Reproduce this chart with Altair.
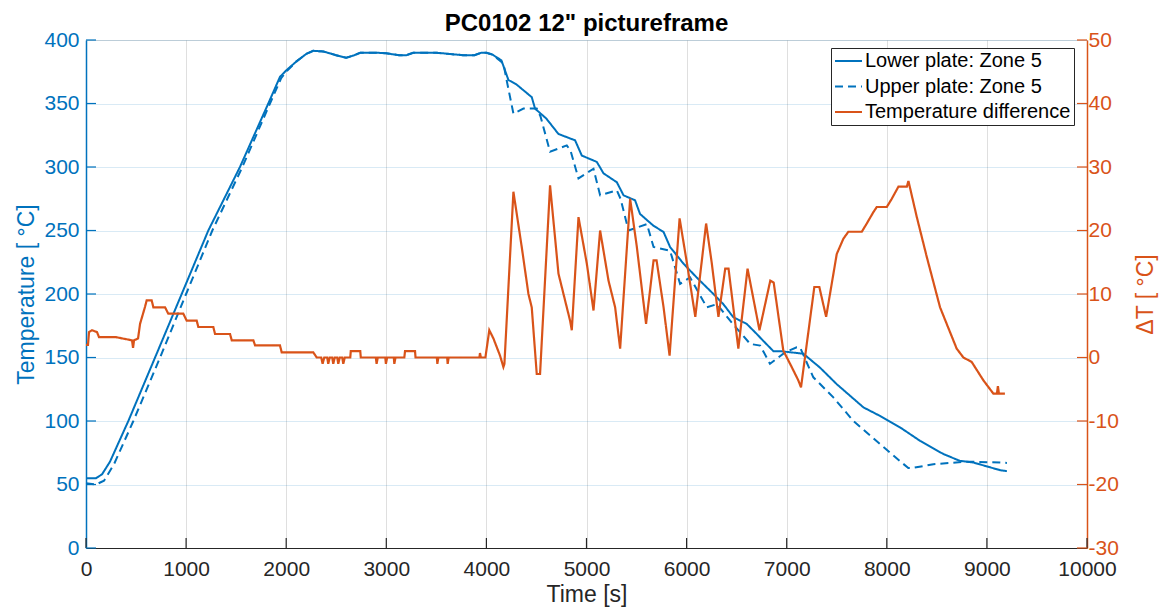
import altair as alt
import pandas as pd

FONT = "Liberation Sans"
BLUE = "#0072BD"
ORANGE = "#D95319"
DARK = "#262626"

S_LOW = "Lower plate: Zone 5"
S_UP = "Upper plate: Zone 5"
S_DIFF = "Temperature difference"

# Lower plate (solid)
lower_t = [0, 100, 160, 240, 423, 690, 956, 1222, 1538, 1821, 1938, 2000, 2100, 2200,
           2270, 2370, 2500, 2600, 2680, 2740, 2900, 3000, 3130, 3200, 3270, 3500, 3700,
           3770, 3880, 3950, 4000, 4060, 4150, 4220, 4300, 4453, 4486, 4600, 4720, 4886,
           4953, 5103, 5170, 5303, 5370, 5485, 5535, 5665, 5770, 5835, 5968, 6101, 6268,
           6367, 6467, 6600, 6700, 6767, 6867, 6933, 7166, 7333, 7500, 7767, 7932, 8132,
           8332, 8565, 8731, 8865, 9131, 9200]
lower_T = [55, 55, 58, 68, 100, 150, 200, 250, 300, 350, 371, 376, 383, 389,
           391.5, 391, 388, 386, 388, 390, 390, 389.5, 388, 388, 390, 390, 388.5,
           388, 388, 390, 390, 388.5, 384, 368.5, 365, 355, 346, 338, 326, 321,
           309, 304, 295, 288, 277.7, 273.8, 263, 254, 248.8, 237, 224, 213, 200,
           192, 181.7, 176.5, 168.6, 163, 155, 155, 153, 142, 129, 110.7, 104, 95,
           84.4, 74, 68.6, 67.3, 61.3, 60.5]

# Upper plate (dashed)
upper_t = [0, 100, 180, 280, 473, 740, 1000, 1262, 1562, 1838, 1950, 2000, 2100, 2200,
           2270, 2370, 2500, 2600, 2680, 2740, 2900, 3000, 3130, 3200, 3270, 3500, 3700,
           3770, 3880, 3950, 4000, 4060, 4170, 4203, 4270, 4370, 4503, 4540, 4636, 4803,
           4840, 4920, 5070, 5136, 5303, 5340, 5420, 5604, 5670, 5835, 5935, 6035, 6202,
           6302, 6435, 6635, 6735, 6833, 6983, 7100, 7133, 7266, 7466, 7666, 7932, 8215,
           8250, 8465, 8797, 9131, 9200]
upper_T = [51, 50, 53, 66, 100, 150, 200, 250, 300, 350, 370, 375, 383, 389,
           391.5, 391, 388, 386, 388, 390, 390, 389.5, 388, 388, 390, 390, 388.5,
           388, 388, 390, 390, 388.5, 381.5, 368, 342, 346, 346, 340, 312, 317,
           313, 291, 298.6, 277.7, 281.6, 275, 250, 255, 237, 234, 208, 213, 189.5,
           192, 179, 160.7, 159.4, 145, 154, 158, 158, 134.4, 118.6, 100, 81.8, 62.9,
           62.9, 66, 68, 67.3, 67]

# Temperature difference (right axis)
diff_t = [0, 20, 30, 60, 110, 130, 300, 460, 470, 480, 520, 540, 590, 606, 656, 673, 790,
          822, 972, 1006, 1106, 1122, 1272, 1289, 1439, 1456, 1672, 1689, 1938, 1955, 2271,
          2305, 2350, 2364, 2380, 2410, 2420, 2435, 2460, 2470, 2485, 2510, 2520, 2535,
          2560, 2570, 2585, 2640, 2645, 2740, 2745, 2895, 2903, 2915, 2990, 2996, 3008,
          3075, 3080, 3092, 3180, 3187, 3287, 3292, 3505, 3510, 3520, 3608, 3613, 3623,
          3930, 3936, 3945, 3990, 4029, 4070, 4136, 4170, 4180, 4270, 4353, 4420, 4453,
          4503, 4536, 4636, 4720, 4836, 4853, 4920, 5003, 5070, 5136, 5220, 5286, 5336,
          5436, 5503, 5595, 5670, 5700, 5770, 5830, 5930, 6004, 6087, 6195, 6252, 6318,
          6386, 6419, 6517, 6609, 6728, 6836, 6870, 6966, 7050, 7116, 7143, 7276, 7326,
          7394, 7500, 7566, 7616, 7750, 7800, 7866, 7900, 8000, 8050, 8116, 8200, 8216,
          8300, 8400, 8532, 8698, 8765, 8848, 8965, 9065, 9100, 9110, 9120, 9180]
diff_dT = [2, 2, 4, 4.3, 4, 3.2, 3.2, 2.7, 1.5, 2.7, 3, 5.3, 8, 9, 9, 7.9, 7.9,
           6.9, 6.9, 5.8, 5.8, 4.8, 4.8, 3.7, 3.7, 2.7, 2.7, 1.9, 1.9, 0.8, 0.8,
           0, 0, -1, 0, 0, -1, 0, 0, -1, 0, 0, -1, 0,
           0, -1, 0, 0, 1, 1, 0, 0, -1, 0, 0, -1, 0,
           0, -1, 0, 0, 1, 1, 0, 0, -1, 0, 0, -1, 0,
           0, 0.7, 0, 0, 4.3, 3, 0.3, -1.5, -1, 26.1, 17.4, 10, 7.9,
           -2.6, -2.6, 27.1, 13.2, 5.8, 4.3, 22.1, 14.8, 7.4, 20, 12.1, 7.9, 1.4,
           25, 17.4, 5.3, 15.3, 15.3, 7.9, 0.3, 21.9, 14.8, 6.4, 21.1, 14.8, 6.4,
           14, 14, 1.4, 14, 4.3, 12.1, 11.8, 1.1, -1.5, -3.6, -4.7, 11.1, 11.1,
           6.4, 16.3, 18.7, 19.8, 19.8, 21.1, 22.9, 23.7, 23.7, 25, 26.9, 26.9, 27.8,
           22.1, 15.8, 7.9, 1.4, 0, -0.7, -3.6, -5.7, -5.7, -4.5, -5.7, -5.7]

x_ticks = list(range(0, 10001, 1000))
left_ticks = list(range(0, 401, 50))
right_ticks = list(range(-30, 51, 10))

W, H = 1001, 508

left_df = pd.concat([
    pd.DataFrame({"t": lower_t, "T": lower_T, "series": S_LOW}),
    pd.DataFrame({"t": upper_t, "T": upper_T, "series": S_UP}),
], ignore_index=True)
right_df = pd.DataFrame({"t": diff_t, "dT": diff_dT, "series": S_DIFF})

domain = [S_LOW, S_UP, S_DIFF]
legend = alt.Legend(title=None, orient="none", legendX=745, legendY=8, padding=3,
                    strokeColor=DARK, fillColor="white", symbolType="stroke",
                    symbolSize=729, symbolStrokeWidth=2, labelFontSize=20, labelFont=FONT,
                    labelColor="black", labelOffset=2, rowPadding=5.5, labelLimit=0,
                    clipHeight=20)
color = alt.Color("series:N", scale=alt.Scale(domain=domain, range=[BLUE, BLUE, ORANGE]),
                  legend=legend)
dash = alt.StrokeDash("series:N", scale=alt.Scale(domain=domain, range=[[1, 0], [8, 5], [1, 0]]),
                      legend=legend)

xscale = alt.Scale(domain=[0, 10000], nice=False)
x_axis = alt.Axis(values=x_ticks, format="d", grid=True, gridColor=DARK, gridOpacity=0.15,
                  tickSize=0, domainColor=DARK, domainWidth=1.2, labelColor=DARK,
                  labelFontSize=21, labelFont=FONT, labelPadding=10, labelFlush=False,
                  labelOverlap=False, title="Time [s]", titleFont=FONT, titleFontSize=23,
                  titleFontWeight="normal", titleColor=DARK, titlePadding=4)

lscale = alt.Scale(domain=[0, 400], nice=False)
l_axis = alt.Axis(values=left_ticks, grid=True, gridColor=BLUE, gridOpacity=0.15, tickSize=0,
                  domainColor=BLUE, domainWidth=1.5, labelColor=BLUE, labelFontSize=21,
                  labelFont=FONT, labelPadding=7, labelFlush=False, labelOverlap=False,
                  title="Temperature [ °C]", titleFont=FONT, titleFontSize=23,
                  titleFontWeight="normal", titleColor=BLUE, titlePadding=5)

rscale = alt.Scale(domain=[-30, 50], nice=False)
r_axis = alt.Axis(orient="right", values=right_ticks, grid=False, tickSize=0,
                  labelExpr="datum.value + ''",
                  domainColor=ORANGE, domainWidth=1.5, labelColor=ORANGE, labelFontSize=21,
                  labelFont=FONT, labelPadding=1, labelFlush=False, labelOverlap=False,
                  title="ΔT [ °C]", titleFont=FONT, titleFontSize=23, titleAngle=270,
                  titleFontWeight="normal", titleColor=ORANGE, titlePadding=39)

left_lines = alt.Chart(left_df).mark_line(strokeWidth=2).encode(
    x=alt.X("t:Q", scale=xscale, axis=x_axis),
    y=alt.Y("T:Q", scale=lscale, axis=l_axis),
    color=color, strokeDash=dash,
)
x_tick_rules = alt.Chart(pd.DataFrame({"t": x_ticks})).mark_rule(color=DARK, strokeWidth=1.2).encode(
    x=alt.X("t:Q", scale=xscale, axis=x_axis), y=alt.value(H), y2=alt.value(H - 10))
l_tick_rules = alt.Chart(pd.DataFrame({"T": left_ticks})).mark_rule(color=BLUE, strokeWidth=1.2).encode(
    y=alt.Y("T:Q", scale=lscale, axis=l_axis), x=alt.value(0), x2=alt.value(10))

right_line = alt.Chart(right_df).mark_line(strokeWidth=2.2).encode(
    x=alt.X("t:Q", scale=xscale, axis=x_axis),
    y=alt.Y("dT:Q", scale=rscale, axis=r_axis),
    color=color, strokeDash=dash,
)
r_tick_rules = alt.Chart(pd.DataFrame({"dT": right_ticks})).mark_rule(color=ORANGE, strokeWidth=1.2).encode(
    y=alt.Y("dT:Q", scale=rscale, axis=r_axis), x=alt.value(W), x2=alt.value(W - 10))

left = alt.layer(left_lines, x_tick_rules, l_tick_rules)
right = alt.layer(right_line, r_tick_rules)

chart = alt.layer(left, right).resolve_scale(y="independent").properties(
    width=W, height=H,
    title=alt.TitleParams('PC0102 12" pictureframe', font=FONT, fontSize=24, fontWeight="bold",
                          color="black", anchor="middle", offset=4, dy=11),
    padding={"left": 78, "top": 32, "right": 76, "bottom": 59},
    autosize=alt.AutoSizeParams(type="none"),
).configure_view(stroke=None).configure(background="white")

chart.save("out.html", embed_options={"renderer": "svg", "actions": False})
